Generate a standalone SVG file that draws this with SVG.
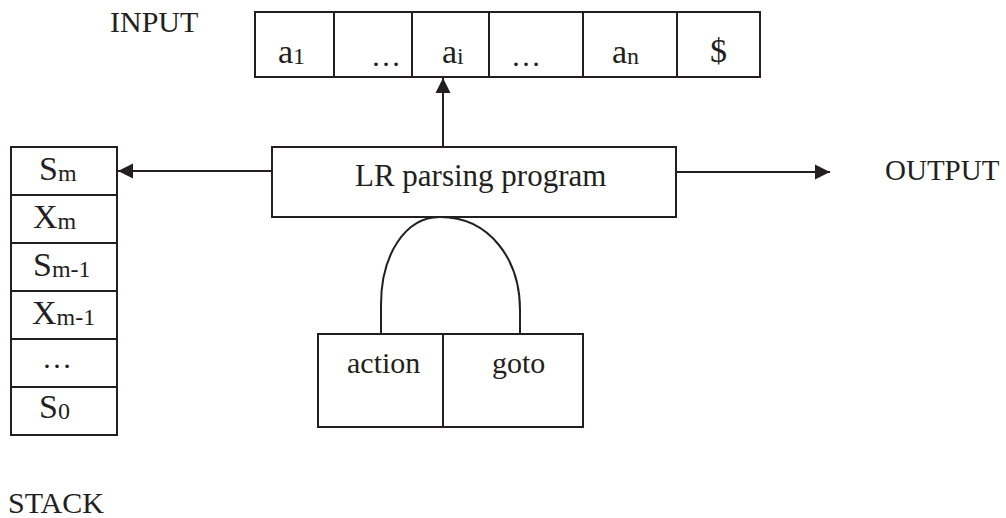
<svg xmlns="http://www.w3.org/2000/svg" width="1006" height="518" viewBox="0 0 1006 518">
<defs>
<style>
.b{fill:#fff;stroke:#231f20;stroke-width:2}
.l{fill:none;stroke:#231f20;stroke-width:2}
text{font-family:"Liberation Serif","Times New Roman",serif;fill:#231f20}
.t{font-size:30px}
.c{font-size:34px}
.s{font-size:24px}
.e{font-size:30px}
</style>
<marker id="ah" markerUnits="userSpaceOnUse" markerWidth="16" markerHeight="16" viewBox="0 0 16 16" refX="15" refY="8" orient="auto">
<path d="M0,0.5 L15,8 L0,15.5 Z" fill="#231f20"/>
</marker>
</defs>
<g id="input-label"><text class="t" x="110" y="32">INPUT</text></g>
<g id="input">
<rect class="b" x="255" y="12" width="505" height="65"/>
<line class="l" x1="334" y1="12" x2="334" y2="77"/>
<line class="l" x1="412" y1="12" x2="412" y2="77"/>
<line class="l" x1="489" y1="12" x2="489" y2="77"/>
<line class="l" x1="583" y1="12" x2="583" y2="77"/>
<line class="l" x1="677" y1="12" x2="677" y2="77"/>
<text class="c" x="278" y="63">a<tspan class="s" dy="1">1</tspan></text>
<text class="e" x="371" y="66">…</text>
<text class="c" x="442" y="63">a<tspan class="s" dy="1">i</tspan></text>
<text class="e" x="511" y="66">…</text>
<text class="c" x="612" y="63">a<tspan class="s" dy="1">n</tspan></text>
<text class="c" x="710" y="62">$</text>
</g>
<g id="stack">
<rect class="b" x="11" y="147" width="106" height="48"/>
<rect class="b" x="11" y="195" width="106" height="48"/>
<rect class="b" x="11" y="243" width="106" height="48"/>
<rect class="b" x="11" y="291" width="106" height="48"/>
<rect class="b" x="11" y="339" width="106" height="48"/>
<rect class="b" x="11" y="387" width="106" height="48"/>
<text class="c" x="39" y="180">S<tspan class="s" dy="1">m</tspan></text>
<text class="c" x="33" y="228">X<tspan class="s" dy="1">m</tspan></text>
<text class="c" x="33" y="276">S<tspan class="s" dy="1">m-1</tspan></text>
<text class="c" x="32" y="324">X<tspan class="s" dy="1">m-1</tspan></text>
<text class="e" x="42" y="368">…</text>
<text class="c" x="39" y="418">S<tspan class="s" dy="1">0</tspan></text>
</g>
<g id="stack-label"><text class="t" x="8" y="513">STACK</text></g>
<g id="lr">
<rect class="b" x="272" y="147" width="404" height="70"/>
<text class="t" x="355" y="186" style="font-size:31px">LR parsing program</text>
</g>
<g id="output-label"><text class="t" x="885" y="180" style="font-size:29px">OUTPUT</text></g>
<g id="table">
<rect class="b" x="318" y="334" width="265" height="93"/>
<line class="l" x1="443" y1="334" x2="443" y2="427"/>
<text class="t" x="347" y="373">action</text>
<text class="t" x="492" y="373">goto</text>
</g>
<g id="connectors">
<line class="l" x1="443" y1="147" x2="443" y2="78" marker-end="url(#ah)"/>
<line class="l" x1="272" y1="171" x2="118" y2="171" marker-end="url(#ah)"/>
<line class="l" x1="676" y1="172" x2="830" y2="172" marker-end="url(#ah)"/>
<path class="l" d="M381,334 L381,305 C381,255 405,217 440,217 C490,217 520,260 520,310 L520,334"/>
</g>
</svg>
